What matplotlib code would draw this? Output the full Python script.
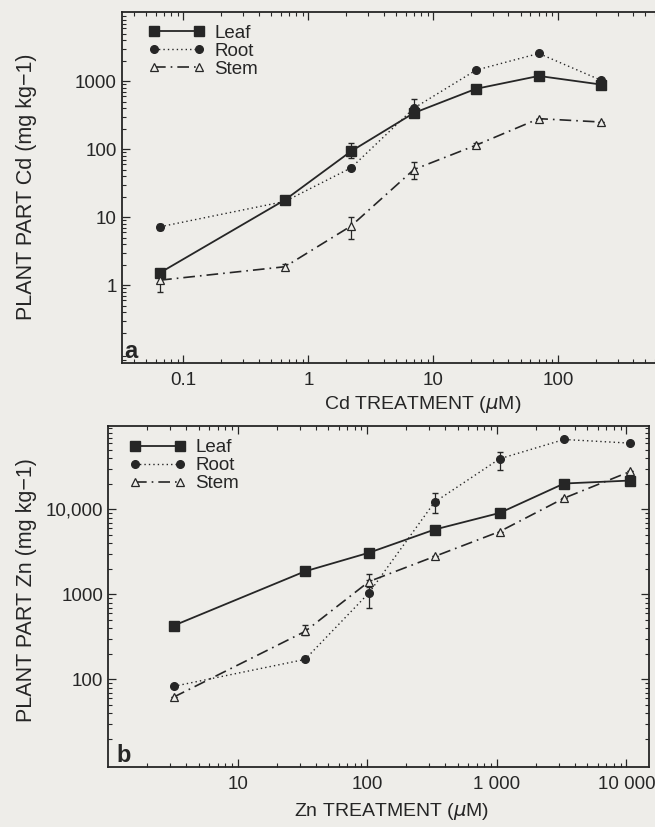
import numpy as np
import matplotlib
matplotlib.use("Agg")
import matplotlib.pyplot as plt
from matplotlib.ticker import FixedLocator, LogLocator, FixedFormatter, NullFormatter

plt.rcParams["font.family"] = ["Liberation Sans", "DejaVu Sans"]

# Cd experiment (panel a)
cd_x = [0.065, 0.65, 2.2, 7.0, 22, 70, 220]
cd_leaf = [1.52, 17.9, 93, 340, 770, 1190, 890]
cd_root = [7.2, 17, 53, 400, 1450, 2550, 1030]
cd_stem = [1.18, 1.86, 7.4, 50, 114, 280, 250]
cd_leaf_err = [[0.15, 1.5, 18, 30, 60, 0, 0], [0.15, 1.5, 30, 30, 60, 0, 0]]
cd_root_err = [[0.8, 1.0, 0, 60, 0, 0, 0], [0.8, 1.0, 0, 150, 0, 0, 0]]
cd_stem_err = [[0.38, 0.15, 2.7, 14, 10, 0, 0], [0.2, 0.15, 2.6, 14, 10, 0, 0]]

# Zn experiment (panel b)
zn_x = [3.2, 33, 103, 330, 1050, 3300, 10700]
zn_leaf = [430, 1870, 3100, 5800, 9100, 20200, 21900]
zn_root = [83, 172, 1045, 12200, 39500, 66600, 60300]
zn_stem = [62, 367, 1420, 2800, 5500, 13600, 28000]
zn_leaf_err = [[0, 100, 0, 0, 0, 0, 0], [0, 100, 0, 0, 0, 0, 0]]
zn_root_err = [[0, 0, 355, 3060, 10000, 0, 0], [0, 0, 415, 3500, 8500, 0, 0]]
zn_stem_err = [[0, 37, 200, 0, 0, 0, 0], [0, 69, 320, 0, 0, 0, 0]]

bg = "#eeede9"
ink = "#262626"

fig = plt.figure(figsize=(6.55, 8.27), dpi=100, facecolor=bg)
ax_a = fig.add_axes([0.1858, 0.5614, 0.857, 0.4245], facecolor=bg)
ax_b = fig.add_axes([0.1653, 0.0729, 0.826, 0.412], facecolor=bg)

styles = {
    "Leaf": dict(ls="-", lw=1.3, marker="s", ms=6.5, mfc=ink, mec=ink),
    "Root": dict(ls=(0, (1, 2.2)), lw=1.0, marker="o", ms=5.5, mfc=ink, mec=ink),
    "Stem": dict(ls=(0, (7, 3, 1, 3)), lw=1.2, marker="^", ms=5.5, mfc=bg, mec=ink, mew=0.9),
}


def draw(ax, x, series, errs, anchor_x):
    handles = []
    for name, y, err in zip(["Leaf", "Root", "Stem"], series, errs):
        ax.errorbar(x, y, yerr=err, fmt="none", ecolor=ink, elinewidth=0.9, capsize=2.5)
        h, = ax.plot(x, y, color=ink, label=name, **styles[name])
        handles.append(h)
    ax.set_xscale("log")
    ax.set_yscale("log")
    ax.tick_params(which="both", direction="in", top=True, right=True,
                   colors=ink, labelsize=13.5)
    ax.tick_params(which="major", length=6, width=0.9)
    ax.tick_params(which="minor", length=3, width=0.8)
    ax.tick_params(axis="x", pad=7)
    for s in ax.spines.values():
        s.set_color(ink)
        s.set_linewidth(1.3)
    leg = ax.legend(handles=handles, loc="upper left", frameon=False, numpoints=2,
                    fontsize=13.5, handlelength=3.0, handletextpad=0.5,
                    labelspacing=0.05, borderaxespad=0.3, borderpad=0.4,
                    bbox_to_anchor=(anchor_x, 1.0))
    for t in leg.get_texts():
        t.set_color(ink)


draw(ax_a, cd_x, (cd_leaf, cd_root, cd_stem), (cd_leaf_err, cd_root_err, cd_stem_err), 0.025)
draw(ax_b, zn_x, (zn_leaf, zn_root, zn_stem), (zn_leaf_err, zn_root_err, zn_stem_err), 0.015)

# panel a axes
ax_a.set_xlim(0.032, 1000)
ax_a.set_ylim(0.072, 10500)
ax_a.xaxis.set_major_locator(FixedLocator([0.1, 1, 10, 100, 1000]))
ax_a.xaxis.set_major_formatter(FixedFormatter(["0.1", "1", "10", "100", ""]))
ax_a.xaxis.set_minor_locator(LogLocator(subs=np.arange(2, 10)))
ax_a.xaxis.set_minor_formatter(NullFormatter())
ax_a.yaxis.set_major_locator(FixedLocator([1, 10, 100, 1000]))
ax_a.yaxis.set_major_formatter(FixedFormatter(["1", "10", "100", "1000"]))
ax_a.yaxis.set_minor_locator(LogLocator(subs=np.arange(2, 10)))
ax_a.yaxis.set_minor_formatter(NullFormatter())
ax_a.set_xlabel(r"Cd TREATMENT ($\mu$M)", fontsize=14, color=ink)
ax_a.xaxis.set_label_coords(0.537, -0.09)
ax_a.text(0.017, 0.0, "a", transform=ax_a.transAxes, fontsize=17, fontweight="bold",
          color=ink, ha="center", va="bottom")
fig.text(0.040, 0.7736, "PLANT PART Cd (mg kg\u22121)", rotation=90, fontsize=15.5,
         color=ink, ha="center", va="center")

# panel b axes
ax_b.set_xlim(1.0, 15000)
ax_b.set_ylim(9.4, 96000)
ax_b.xaxis.set_major_locator(FixedLocator([10, 100, 1000, 10000]))
ax_b.xaxis.set_major_formatter(FixedFormatter(["10", "100", "1 000", "10 000"]))
ax_b.xaxis.set_minor_locator(LogLocator(subs=np.arange(2, 10)))
ax_b.xaxis.set_minor_formatter(NullFormatter())
ax_b.yaxis.set_major_locator(FixedLocator([100, 1000, 10000]))
ax_b.yaxis.set_major_formatter(FixedFormatter(["100", "1000", "10,000"]))
ax_b.yaxis.set_minor_locator(LogLocator(subs=np.arange(2, 10)))
ax_b.yaxis.set_minor_formatter(NullFormatter())
ax_b.set_xlabel(r"Zn TREATMENT ($\mu$M)", fontsize=14, color=ink)
ax_b.xaxis.set_label_coords(0.523, -0.1)
ax_b.text(0.028, 0.0, "b", transform=ax_b.transAxes, fontsize=17, fontweight="bold",
          color=ink, ha="center", va="bottom")
fig.text(0.040, 0.286, "PLANT PART Zn (mg kg\u22121)", rotation=90, fontsize=15.5,
         color=ink, ha="center", va="center")

fig.savefig("out.png", dpi=100, facecolor=bg)
